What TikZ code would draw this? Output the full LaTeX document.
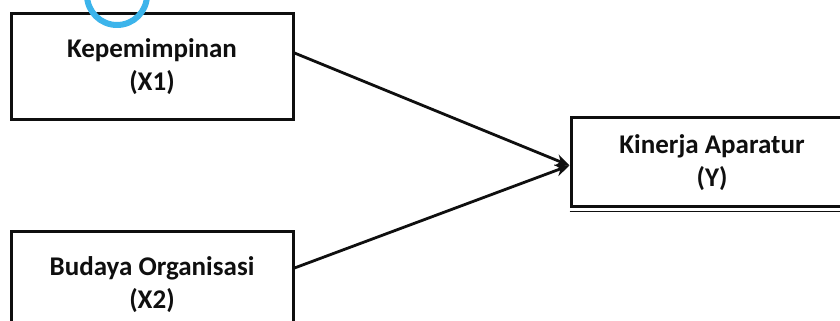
\documentclass[tikz,border=0pt]{standalone}
\usepackage{fontspec}
\setmainfont{Carlito}
\usetikzlibrary{arrows.meta}
\definecolor{markblue}{RGB}{60,180,235}
\definecolor{inkc}{RGB}{15,15,15}
\tikzset{
  varbox/.style={draw=inkc, line width=3pt, minimum width=282pt, align=center,
    font=\fontsize{27}{33}\selectfont\bfseries, text=inkc, inner sep=0pt},
  link/.style={draw=inkc, line width=2.8pt, -{Stealth[length=14pt,width=12pt]}}
}
\begin{document}
\begin{tikzpicture}[x=1pt,y=1pt]
\useasboundingbox (0,0) rectangle (840,321);
\clip (0,0) rectangle (840,321);
\fill[white] (0,0) rectangle (840,321);
\node[varbox, minimum height=106pt] (x1) at (152,254) {Kepemimpinan\\(X1)};
\node[varbox, minimum height=106pt] (x2) at (152,36) {Budaya Organisasi\\(X2)};
\node[varbox, minimum height=89pt] (y) at (712,158.5) {Kinerja Aparatur\\(Y)};
\coordinate (ybot) at ([yshift=-3pt]y.south west);
\coordinate (ybotr) at ([yshift=-3pt]y.south east);
\draw[inkc, line width=1.8pt] (ybot) -- (ybotr);
\draw[link] ([yshift=14pt]x1.east) -- ([yshift=-3pt]y.west);
\draw[link] ([yshift=17pt]x2.east) -- ([yshift=-3pt]y.west);
\draw[markblue, line width=6pt] (117,326) circle[radius=30];
\end{tikzpicture}
\end{document}
